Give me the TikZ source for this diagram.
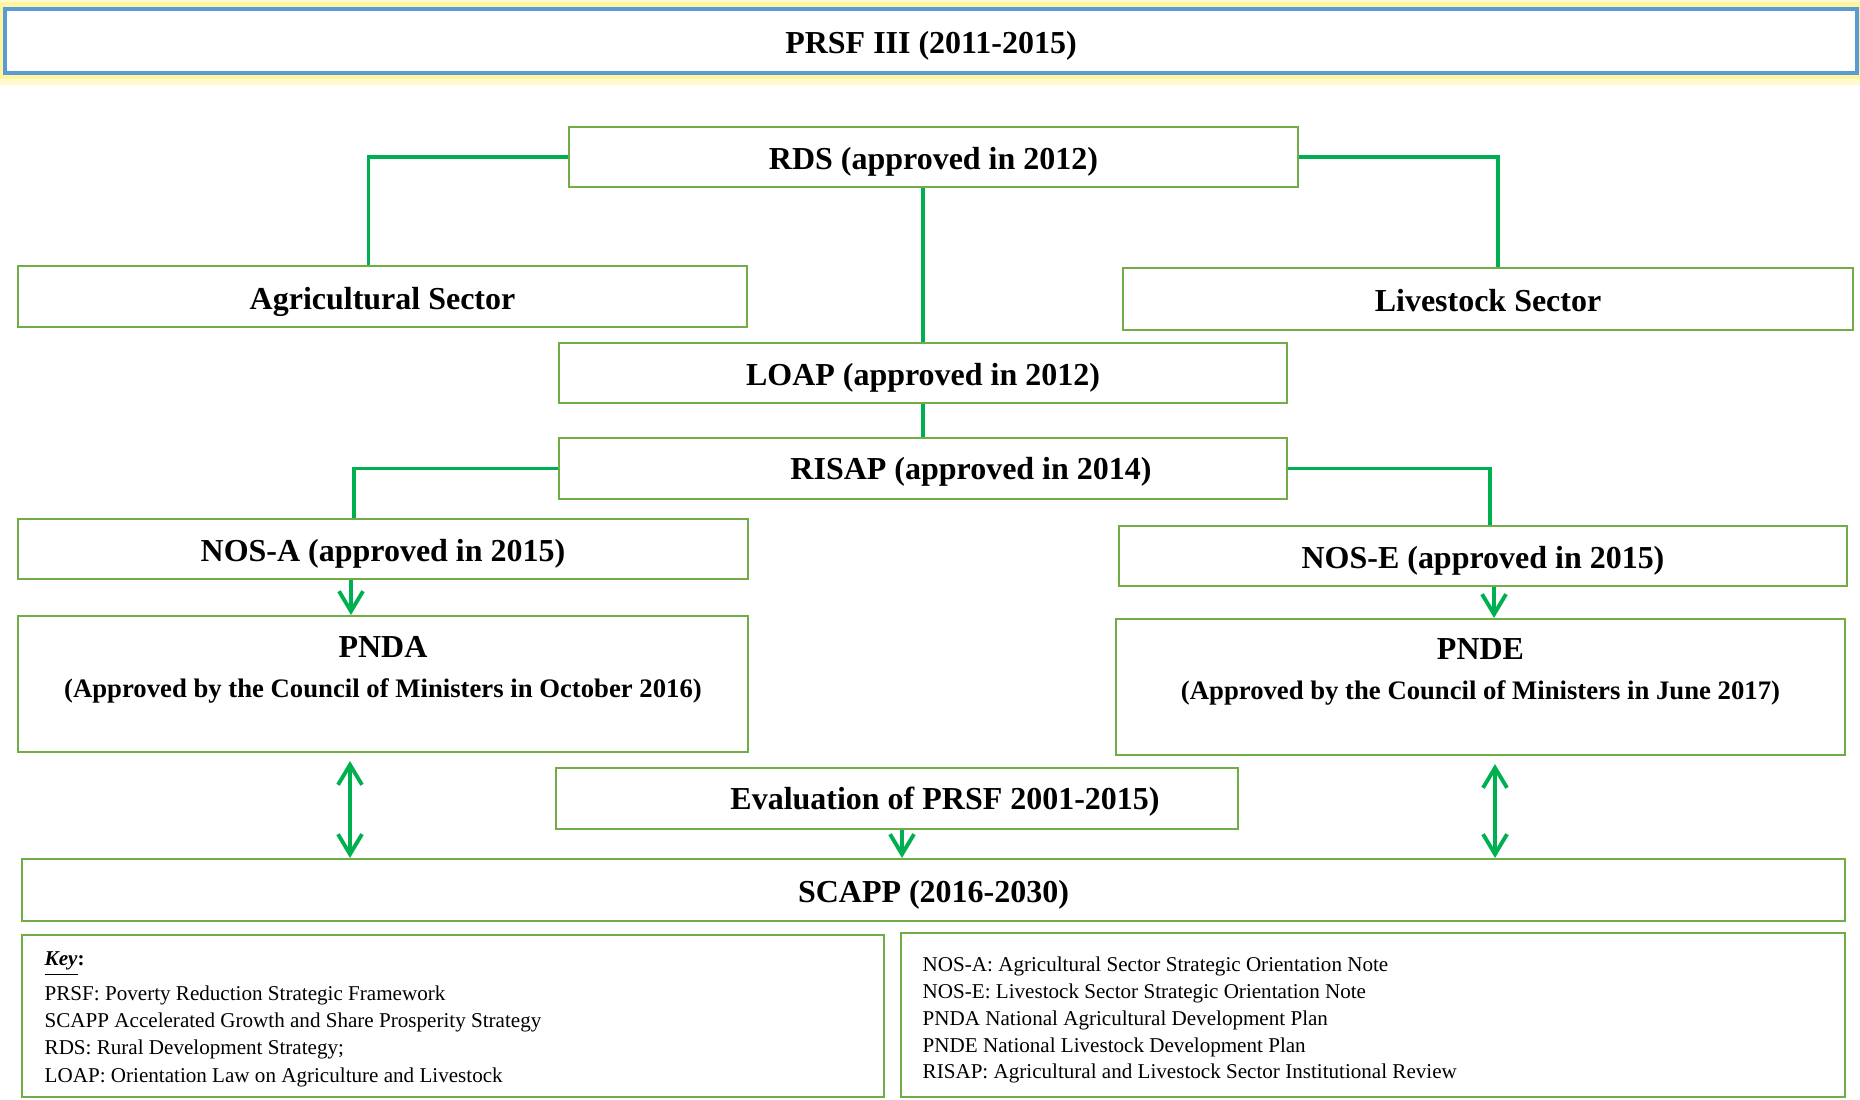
\documentclass[tikz,border=0pt]{standalone}
\usepackage{fontspec}
\setmainfont{Liberation Serif}
\usetikzlibrary{arrows.meta}

\definecolor{boxgreen}{HTML}{70AD47}
\definecolor{linegreen}{HTML}{00B050}
\definecolor{titleblue}{HTML}{5B9BD5}
\definecolor{glowyellow}{HTML}{FFF176}

\begin{document}
\begin{tikzpicture}[
        box/.style={draw=boxgreen, line width=0.6pt, inner sep=0pt,
            text height=0.94em, text depth=0.22em,
            font=\fontsize{9.1}{11.4}\selectfont\bfseries},
        boxtext/.style={inner sep=0pt, align=center,
            font=\fontsize{9.1}{11.4}\selectfont\bfseries},
        conn/.style={linegreen, line width=1.1pt},
        arrowline/.style={conn, -{Straight Barb[length=0.2cm,width=0.24cm]}},
        dblarrow/.style={conn, {Straight Barb[length=0.2cm,width=0.24cm]}-{Straight Barb[length=0.2cm,width=0.24cm]}},
        keytext/.style={inner sep=0pt, anchor=base west, font=\fontsize{6}{7}\selectfont}
    ]
    \useasboundingbox (0,0) rectangle (18.6,10.99);

    % Title with glow
    \draw[glowyellow!35, line width=0.24cm] (0.05,10.26) rectangle (18.57,10.90);
    \draw[glowyellow!70, line width=0.13cm] (0.05,10.26) rectangle (18.57,10.90);
    \node[box, draw=titleblue, line width=1.2pt, fill=white, minimum width=18.52cm, minimum height=0.64cm] (prsf) at (9.31,10.58) {PRSF III (2011-2015)};

    % Strategies
    \node[box, minimum width=7.29cm, minimum height=0.60cm] (rds) at (9.335,9.42) {RDS (approved in 2012)};
    \node[box, minimum width=7.29cm, minimum height=0.61cm] (agri) at (3.825,8.025) {Agricultural Sector};
    \node[box, minimum width=7.30cm, minimum height=0.62cm] (live) at (14.88,8.00) {Livestock Sector};
    \node[box, minimum width=7.28cm, minimum height=0.60cm] (loap) at (9.23,7.26) {LOAP (approved in 2012)};
    \node[box, minimum width=7.28cm, minimum height=0.61cm] (risap) at (9.23,6.305) {};
    \node[boxtext] (risaptxt) at (9.71,6.27) {RISAP (approved in 2014)};
    \node[box, minimum width=7.30cm, minimum height=0.60cm] (nosa) at (3.83,5.50) {NOS-A (approved in 2015)};
    \node[box, minimum width=7.28cm, minimum height=0.60cm] (nose) at (14.83,5.43) {NOS-E (approved in 2015)};

    % Plans
    \node[box, minimum width=7.30cm, minimum height=1.36cm] (pnda) at (3.83,4.15) {};
    \node[boxtext] (pndatxt) at (3.83,4.29) {PNDA\\{\fontsize{7.6}{11.4}\selectfont(Approved by the Council of Ministers in October 2016)}};
    \node[box, minimum width=7.29cm, minimum height=1.36cm] (pnde) at (14.805,4.12) {};
    \node[boxtext] (pndetxt) at (14.805,4.27) {PNDE\\{\fontsize{7.6}{11.4}\selectfont(Approved by the Council of Ministers in June 2017)}};

    \node[box, minimum width=6.82cm, minimum height=0.61cm] (eval) at (8.97,3.005) {};
    \node[boxtext] (evaltxt) at (9.45,2.97) {Evaluation of PRSF 2001-2015)};
    \node[box, minimum width=18.23cm, minimum height=0.62cm] (scapp) at (9.335,2.09) {SCAPP (2016-2030)};

    % Connectors
    \draw[conn] (rds.west) -| ([xshift=-0.14cm]agri.north);
    \draw[conn] (rds.east) -| ([xshift=0.10cm]live.north);
    \draw[conn] (loap.north) -- (loap.north |- rds.south);
    \draw[conn] (loap.south) -- (risap.north);
    \draw[conn] (risap.west) -| ([xshift=-0.29cm]nosa.north);
    \draw[conn] (risap.east) -| ([xshift=0.07cm]nose.north);

    % Arrows
    \draw[arrowline] ([xshift=-0.32cm]nosa.south) -- ([xshift=-0.32cm]pnda.north);
    \draw[arrowline] ([xshift=0.11cm]nose.south) -- ([xshift=0.11cm]nose.south |- pnde.north);
    \draw[arrowline] ([xshift=0.05cm]eval.south) -- ([xshift=0.05cm]eval.south |- scapp.north);
    \draw[dblarrow, shorten <=0.08cm] ([xshift=-0.33cm]pnda.south) -- ([xshift=-0.33cm]pnda.south |- scapp.north);
    \draw[dblarrow, shorten <=0.08cm] ([xshift=0.145cm]pnde.south) -- ([xshift=0.145cm]pnde.south |- scapp.north);

    % Key
    \node[box, minimum width=8.62cm, minimum height=1.62cm] (keyl) at (4.53,0.83) {};
    \node[box, minimum width=9.44cm, minimum height=1.64cm] (keyr) at (13.73,0.84) {};
    \node[keytext] (keyhead) at (0.44,1.34) {\underline{\textbf{\textit{Key}}}\textbf{:}};
    \foreach \t [count=\i] in {PRSF: Poverty Reduction Strategic Framework,
            SCAPP Accelerated Growth and Share Prosperity Strategy,
            RDS: Rural Development Strategy;,
            LOAP: Orientation Law on Agriculture and Livestock}
        \node[keytext] (kl\i) at (0.44,{1.26-0.273*\i}) {\t};
    \foreach \t [count=\i] in {NOS-A: Agricultural Sector Strategic Orientation Note,
            NOS-E: Livestock Sector Strategic Orientation Note,
            PNDA National Agricultural Development Plan,
            PNDE National Livestock Development Plan,
            RISAP: Agricultural and Livestock Sector Institutional Review}
        \node[keytext] (kr\i) at (9.22,{1.54-0.2675*\i}) {\t};
\end{tikzpicture}
\end{document}
